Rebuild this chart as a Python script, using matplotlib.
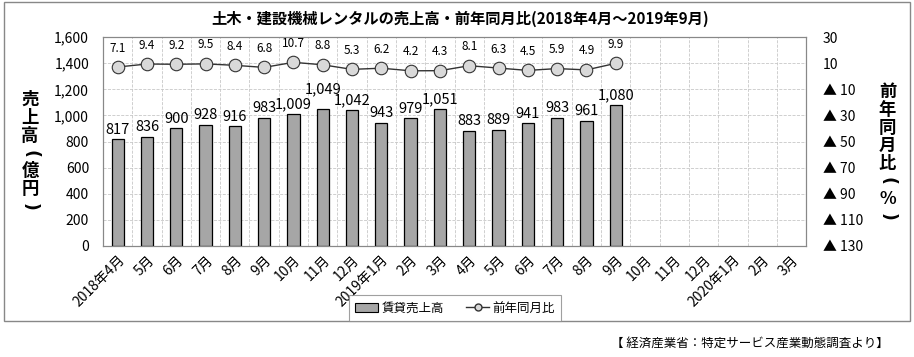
import matplotlib.pyplot as plt
from matplotlib.patches import Rectangle
from matplotlib.lines import Line2D
from matplotlib.ticker import FixedLocator, FuncFormatter

plt.rcParams['font.family'] = ['Noto Sans CJK JP', 'DejaVu Sans']

months = ['2018年4月', '5月', '6月', '7月', '8月', '9月', '10月', '11月', '12月',
          '2019年1月', '2月', '3月', '4月', '5月', '6月', '7月', '8月', '9月',
          '10月', '11月', '12月', '2020年1月', '2月', '3月']
sales = [817, 836, 900, 928, 916, 983, 1009, 1049, 1042, 943, 979, 1051,
         883, 889, 941, 983, 961, 1080]
yoy = [7.1, 9.4, 9.2, 9.5, 8.4, 6.8, 10.7, 8.8, 5.3, 6.2, 4.2, 4.3,
       8.1, 6.3, 4.5, 5.9, 4.9, 9.9]


def vertical_label(fig, xc, y_top, chars, step):
    # stack characters top to bottom, parentheses turned sideways
    y = y_top
    for ch in chars:
        if ch in '()':
            fig.text(xc, y, ch, ha='center', va='center', rotation=-90,
                     fontsize=12.5, fontweight='bold', family='DejaVu Sans')
        else:
            fig.text(xc, y, ch, ha='center', va='center',
                     fontsize=12.5, fontweight='bold')
        y -= step


fig = plt.figure(figsize=(9.14, 3.57), dpi=100)
ax = fig.add_axes([0.1127, 0.311, 0.7693, 0.585])

x = list(range(len(months)))
ax.bar(x[:len(sales)], sales, width=0.42, color='#a6a6a6', edgecolor='black', linewidth=0.9, zorder=3)
for i, v in enumerate(sales):
    extra = 80 if i == 7 else 0
    ax.text(i, v + 20 + extra, f'{v:,}', ha='center', va='bottom', fontsize=10.5, zorder=5)

ax.set_xlim(-0.5, len(months) - 0.5)
ax.set_ylim(0, 1600)
ax.set_yticks(range(0, 1601, 200))
ax.yaxis.set_major_formatter(FuncFormatter(lambda v, p: f'{int(v):,}'))
ax.set_xticks(x)
ax.set_xticklabels(months, rotation=45, ha='right', rotation_mode='anchor', fontsize=10)
ax.xaxis.set_minor_locator(FixedLocator([i + 0.5 for i in x[:-1]]))
ax.tick_params(axis='x', which='both', length=0, pad=5)
ax.tick_params(axis='y', length=0, labelsize=10, pad=10)
ax.grid(axis='y', which='major', color='#c8c8c8', linestyle='--', linewidth=0.6, zorder=0)
ax.grid(axis='x', which='minor', color='#c8c8c8', linestyle='--', linewidth=0.6, zorder=0)
for s in ax.spines.values():
    s.set_color('#888888')

ax2 = ax.twinx()
ax2.set_ylim(-130, 30)
ax2.set_yticks(range(-130, 31, 20))
ax2.yaxis.set_major_formatter(FuncFormatter(
    lambda v, p: f'{int(v)}' if v >= 0 else f'▲ {int(-v)}'))
ax2.tick_params(axis='y', length=0, labelsize=10, pad=12)
ax2.plot(x[:len(yoy)], yoy, color='#333333', linewidth=1, marker='o', markersize=9,
         markerfacecolor='#d9d9d9', markeredgecolor='#333333', markeredgewidth=0.8, zorder=4)
for i, v in enumerate(yoy):
    ax2.annotate(f'{v}', (i, v), xytext=(0, 9), textcoords='offset points',
                 ha='center', va='bottom', fontsize=8.5)
for s in ax2.spines.values():
    s.set_color('#888888')

fig.text(0.503, 0.948, '土木・建設機械レンタルの売上高・前年同月比(2018年4月～2019年9月)',
         ha='center', va='center', fontsize=11, fontweight='bold')
vertical_label(fig, 0.033, 0.72, '売上高(億円)', 0.05)
vertical_label(fig, 0.971, 0.742, '前年同月比(%)', 0.05)

handles = [Rectangle((0, 0), 1, 1, facecolor='#a6a6a6', edgecolor='black', linewidth=0.8),
           Line2D([], [], color='#333333', linewidth=1, marker='o', markersize=5,
                  markerfacecolor='#d9d9d9', markeredgecolor='#333333')]
leg = fig.legend(handles, ['賃貸売上高', '前年同月比'], loc='center', bbox_to_anchor=(0.498, 0.137),
                 ncol=2, fontsize=9, frameon=True, fancybox=False, edgecolor='#888888',
                 handlelength=1.8, handletextpad=0.3, columnspacing=1.8, borderpad=0.5)
leg.get_frame().set_linewidth(0.8)

fig.patches.append(Rectangle((0.004, 0.1), 0.992, 0.893, transform=fig.transFigure,
                             fill=False, edgecolor='#888888', linewidth=1))
fig.text(0.972, 0.038, '【 経済産業省：特定サービス産業動態調査より】', ha='right', va='center', fontsize=9)

fig.savefig('out.png', dpi=100)
